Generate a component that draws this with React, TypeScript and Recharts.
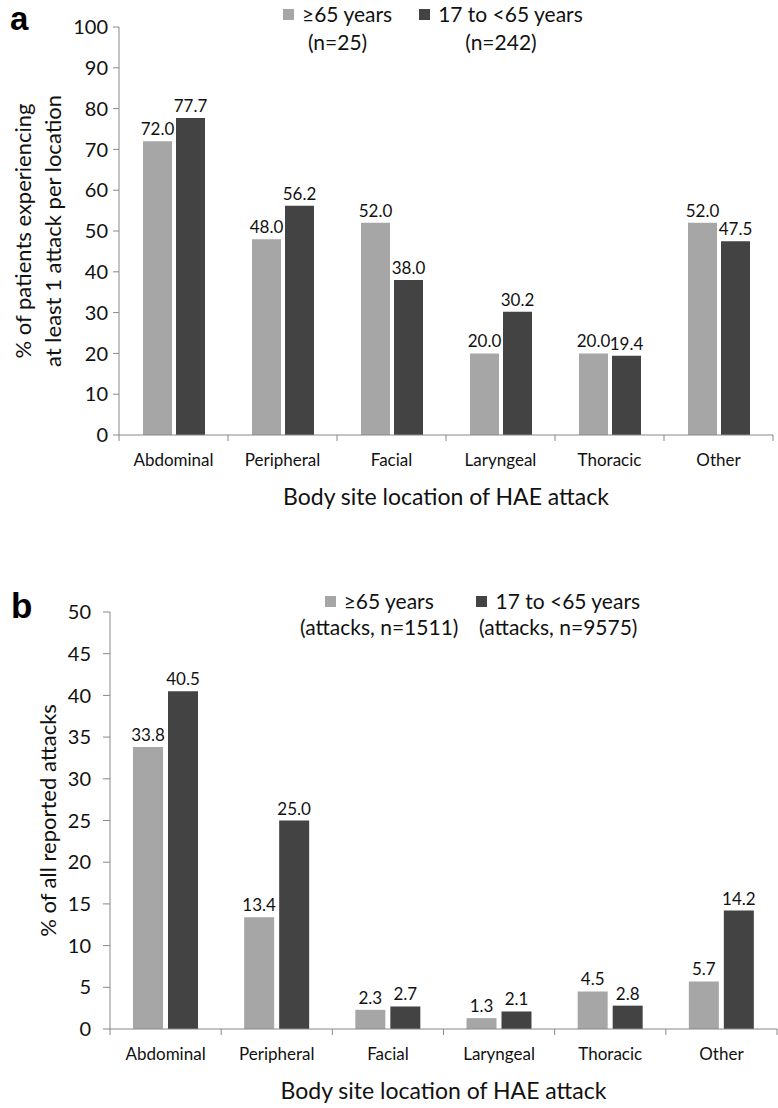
import { BarChart, Bar, XAxis, YAxis, LabelList, Label } from "recharts";

const categories = ["Abdominal", "Peripheral", "Facial", "Laryngeal", "Thoracic", "Other"];

// panel a: % of patients with at least 1 attack per location
const patientsOlder = [72.0, 48.0, 52.0, 20.0, 20.0, 52.0];
const patientsYounger = [77.7, 56.2, 38.0, 30.2, 19.4, 47.5];
const ticksA = [0, 10, 20, 30, 40, 50, 60, 70, 80, 90, 100];

// panel b: % of all reported attacks
const attacksOlder = [33.8, 13.4, 2.3, 1.3, 4.5, 5.7];
const attacksYounger = [40.5, 25.0, 2.7, 2.1, 2.8, 14.2];
const ticksB = [0, 5, 10, 15, 20, 25, 30, 35, 40, 45, 50];

const seriesNames = ["≥65 years", "17 to <65 years"];
const legendNotesA = ["(n=25)", "(n=242)"];
const legendNotesB = ["(attacks, n=1511)", "(attacks, n=9575)"];

const FONT = "Lato, 'Open Sans', sans-serif";
const LIGHT = "#a6a6a6";
const DARK = "#434343";
const AXIS = "#888888";
const W = 778;

const toRows = (older: number[], younger: number[]) =>
  categories.map((name, i) => ({ name, older: older[i], younger: younger[i] }));

function CategoryTick(props: any) {
  const { x, y, payload, index, band } = props;
  return (
    <g>
      <line x1={x - band / 2} x2={x - band / 2} y1={y} y2={y + 6} stroke={AXIS} />
      {index === categories.length - 1 && (
        <line x1={x + band / 2} x2={x + band / 2} y1={y} y2={y + 6} stroke={AXIS} />
      )}
      <text x={x} y={y + 31} textAnchor="middle" fontSize={17} fill="#111" fontFamily={FONT}>
        {payload.value}
      </text>
    </g>
  );
}

type PanelProps = {
  rows: any[];
  ticks: number[];
  height: number;
  plotTop: number;
  plotBottom: number;
  plotLeft: number;
  plotRight: number;
  barSize: number;
  barGap: number;
  yLines: string[];
  yLineX: number[];
  tickSize: number;
  tickMargin: number;
};

function Panel(p: PanelProps) {
  const band = (p.plotRight - p.plotLeft) / categories.length;
  const xAxisHeight = 75;
  return (
    <BarChart
      width={W}
      height={p.height}
      data={p.rows}
      barSize={p.barSize}
      barGap={p.barGap}
      margin={{ top: p.plotTop, right: W - p.plotRight, left: 0, bottom: p.height - p.plotBottom - xAxisHeight }}
    >
      <XAxis
        dataKey="name"
        height={xAxisHeight}
        interval={0}
        tickLine={false}
        tickSize={0}
        tickMargin={0}
        stroke={AXIS}
        tick={(t: any) => <CategoryTick {...t} band={band} />}
      >
        <Label
          content={(l: any) => (
            <text
              x={l.viewBox.x + l.viewBox.width / 2}
              y={l.viewBox.y + 70}
              textAnchor="middle"
              fontSize={23}
              fill="#111"
              fontFamily={FONT}
            >
              Body site location of HAE attack
            </text>
          )}
        />
      </XAxis>
      <YAxis
        width={p.plotLeft}
        domain={[p.ticks[0], p.ticks[p.ticks.length - 1]]}
        ticks={p.ticks}
        interval={0}
        stroke={AXIS}
        tickSize={p.tickSize}
        tickMargin={p.tickMargin}
        tick={{ fontSize: 20, fill: "#111", fontFamily: FONT }}
      >
        <Label
          content={(l: any) => {
            const cy = l.viewBox.y + l.viewBox.height / 2;
            return (
              <g>
                {p.yLines.map((line, i) => (
                  <text
                    key={line}
                    transform={`translate(${p.yLineX[i]}, ${cy}) rotate(-90)`}
                    textAnchor="middle"
                    dominantBaseline="central"
                    fontSize={22}
                    fill="#111"
                    fontFamily={FONT}
                  >
                    {line}
                  </text>
                ))}
              </g>
            );
          }}
        />
      </YAxis>
      <Bar dataKey="older" fill={LIGHT} isAnimationActive={false}>
        <LabelList
          dataKey="older"
          position="top"
          offset={6}
          formatter={(v: any) => Number(v).toFixed(1)}
          style={{ fontSize: 17, fill: "#111", fontFamily: FONT }}
        />
      </Bar>
      <Bar dataKey="younger" fill={DARK} isAnimationActive={false}>
        <LabelList
          dataKey="younger"
          position="top"
          offset={6}
          formatter={(v: any) => Number(v).toFixed(1)}
          style={{ fontSize: 17, fill: "#111", fontFamily: FONT }}
        />
      </Bar>
    </BarChart>
  );
}

function LegendBox({ notes, left, top, gap, lineHeight }: { notes: string[]; left: number; top: number; gap: number; lineHeight: number }) {
  const colors = [LIGHT, DARK];
  return (
    <div style={{ position: "absolute", left, top, display: "flex", gap, fontFamily: FONT, fontSize: 21, color: "#111", lineHeight: `${lineHeight}px` }}>
      {seriesNames.map((name, i) => (
        <div key={name} style={{ display: "flex", flexDirection: "column", alignItems: "center" }}>
          <div style={{ display: "flex", alignItems: "center", whiteSpace: "nowrap" }}>
            <span style={{ width: 11, height: 11, background: colors[i], marginRight: 8, display: "inline-block" }} />
            {name}
          </div>
          <div style={{ whiteSpace: "nowrap" }}>{notes[i]}</div>
        </div>
      ))}
    </div>
  );
}

const panelLetter = {
  position: "absolute" as const,
  fontFamily: "Arial, 'Liberation Sans', sans-serif",
  fontWeight: "bold" as const,
  lineHeight: 1,
};

export default function App() {
  return (
    <div style={{ position: "relative", width: W, height: 1108, background: "#fff" }}>
      <style>{`body{margin:0;background:#fff}`}</style>

      <div style={{ position: "absolute", left: 0, top: 0 }}>
        <Panel
          rows={toRows(patientsOlder, patientsYounger)}
          ticks={ticksA}
          height={530}
          plotTop={27}
          plotBottom={435}
          plotLeft={119}
          plotRight={773}
          barSize={29}
          barGap={4}
          yLines={["% of patients experiencing", "at least 1 attack per location"]}
          yLineX={[22, 52]}
          tickSize={6}
          tickMargin={5}
        />
      </div>
      <div style={{ ...panelLetter, left: 10, top: 2, fontSize: 33 }}>a</div>
      <LegendBox notes={legendNotesA} left={283} top={0} gap={27} lineHeight={28} />

      <div style={{ position: "absolute", left: 0, top: 545 }}>
        <Panel
          rows={toRows(attacksOlder, attacksYounger)}
          ticks={ticksB}
          height={563}
          plotTop={67}
          plotBottom={484}
          plotLeft={110}
          plotRight={777}
          barSize={30}
          barGap={5}
          yLines={["% of all reported attacks"]}
          yLineX={[47]}
          tickSize={7}
          tickMargin={12}
        />
      </div>
      <div style={{ ...panelLetter, left: 11, top: 588, fontSize: 35 }}>b</div>
      <LegendBox notes={legendNotesB} left={300} top={588} gap={18} lineHeight={26} />
    </div>
  );
}
